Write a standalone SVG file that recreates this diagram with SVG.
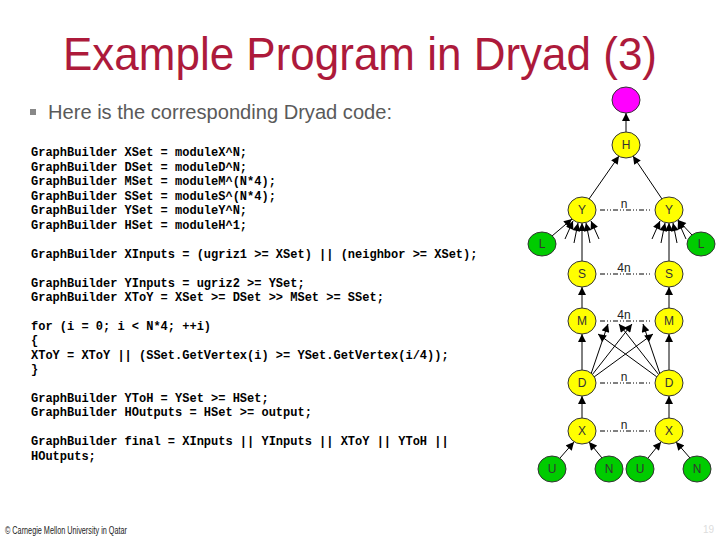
<svg xmlns="http://www.w3.org/2000/svg" width="720" height="540" viewBox="0 0 720 540">
<defs>
<marker id="ah" viewBox="0 0 10 10" refX="10" refY="5" markerWidth="9" markerHeight="8" markerUnits="userSpaceOnUse" orient="auto">
<path d="M0,0 L10,5 L0,10 z" fill="#000"/>
</marker>
<style>
.title{font-family:"Liberation Sans",Arial,sans-serif;font-size:47px;fill:#AD1A3B}
.bullet{font-family:"Liberation Sans",Arial,sans-serif;font-size:20px;fill:#5a5a5a}
.code{font-family:"Liberation Mono","Courier New",monospace;font-size:12px;font-weight:bold;fill:#000;white-space:pre}
.foot{font-family:"Liberation Sans",Arial,sans-serif;font-size:10px;fill:#222}
.pg{font-family:"Liberation Sans",Arial,sans-serif;font-size:10px;fill:#ddd}
.y{fill:#FFFF00;stroke:#333;stroke-width:1}
.g{fill:#00CC00;stroke:#333;stroke-width:1}
.m{fill:#FF00FF;stroke:#333;stroke-width:1}
.nl{font-family:"Liberation Sans",Arial,sans-serif;font-size:12px;fill:#333;text-anchor:middle}
.e{stroke:#000;stroke-width:1;fill:none;marker-end:url(#ah)}
.d{stroke:#000;stroke-width:1;fill:none;stroke-dasharray:5,2,1,2,1,2}
.dl{font-family:"Liberation Sans",Arial,sans-serif;font-size:12px;fill:#222;text-anchor:middle}
</style>
</defs>
<rect width="720" height="540" fill="#fff"/>
<text class="title" x="63" y="70" textLength="594" lengthAdjust="spacingAndGlyphs">Example Program in Dryad (3)</text>
<rect x="30" y="109" width="6" height="6" fill="#888"/>
<text class="bullet" x="48" y="119" textLength="344" lengthAdjust="spacingAndGlyphs">Here is the corresponding Dryad code:</text>
<g id="code">
<text class="code" x="31" y="156">GraphBuilder XSet = moduleX^N;</text>
<text class="code" x="31" y="171">GraphBuilder DSet = moduleD^N;</text>
<text class="code" x="31" y="185">GraphBuilder MSet = moduleM^(N*4);</text>
<text class="code" x="31" y="200">GraphBuilder SSet = moduleS^(N*4);</text>
<text class="code" x="31" y="214">GraphBuilder YSet = moduleY^N;</text>
<text class="code" x="31" y="229">GraphBuilder HSet = moduleH^1;</text>
<text class="code" x="31" y="258">GraphBuilder XInputs = (ugriz1 &gt;= XSet) || (neighbor &gt;= XSet);</text>
<text class="code" x="31" y="287">GraphBuilder YInputs = ugriz2 &gt;= YSet;</text>
<text class="code" x="31" y="301">GraphBuilder XToY = XSet &gt;= DSet &gt;&gt; MSet &gt;= SSet;</text>
<text class="code" x="31" y="330">for (i = 0; i &lt; N*4; ++i)</text>
<text class="code" x="31" y="344">{</text>
<text class="code" x="31" y="359">XToY = XToY || (SSet.GetVertex(i) &gt;= YSet.GetVertex(i/4));</text>
<text class="code" x="31" y="373">}</text>
<text class="code" x="31" y="402">GraphBuilder YToH = YSet &gt;= HSet;</text>
<text class="code" x="31" y="416">GraphBuilder HOutputs = HSet &gt;= output;</text>
<text class="code" x="31" y="445">GraphBuilder final = XInputs || YInputs || XToY || YToH ||</text>
<text class="code" x="31" y="460">HOutputs;</text>
</g>
<g id="connectors">
<line class="e" x1="626" y1="132" x2="626" y2="113"/>
<line class="e" x1="589" y1="199" x2="619" y2="156"/>
<line class="e" x1="662" y1="199" x2="633" y2="156"/>
<line class="e" x1="552" y1="236" x2="572" y2="219"/>
<line class="e" x1="692" y1="235" x2="678" y2="220"/>
<line class="e" x1="582" y1="261" x2="582" y2="223"/>
<line class="e" x1="565" y1="239" x2="573" y2="221"/>
<line class="e" x1="574" y1="243" x2="578" y2="223"/>
<line class="e" x1="590" y1="243" x2="586" y2="223"/>
<line class="e" x1="599" y1="239" x2="591" y2="221"/>
<line class="e" x1="669" y1="261" x2="669" y2="223"/>
<line class="e" x1="652" y1="239" x2="660" y2="221"/>
<line class="e" x1="661" y1="243" x2="665" y2="223"/>
<line class="e" x1="677" y1="243" x2="673" y2="223"/>
<line class="e" x1="686" y1="239" x2="678" y2="221"/>
<line class="e" x1="582" y1="308" x2="582" y2="287"/>
<line class="e" x1="669" y1="308" x2="669" y2="287"/>
<line class="e" x1="582" y1="370" x2="582" y2="334"/>
<line class="e" x1="669" y1="370" x2="669" y2="334"/>
<line class="e" x1="591" y1="374" x2="608" y2="324"/>
<line class="e" x1="592" y1="375" x2="632" y2="324"/>
<line class="e" x1="594" y1="377" x2="653" y2="334"/>
<line class="e" x1="660" y1="374" x2="643" y2="324"/>
<line class="e" x1="659" y1="375" x2="619" y2="324"/>
<line class="e" x1="657" y1="377" x2="598" y2="334"/>
<line class="e" x1="582" y1="418" x2="582" y2="396"/>
<line class="e" x1="669" y1="418" x2="669" y2="396"/>
<line class="e" x1="560" y1="458" x2="574" y2="442"/>
<line class="e" x1="602" y1="458" x2="589" y2="442"/>
<line class="e" x1="648" y1="458" x2="661" y2="442"/>
<line class="e" x1="690" y1="458" x2="676" y2="442"/>
<line class="d" x1="600" y1="210" x2="652" y2="210"/>
<line class="d" x1="600" y1="274" x2="652" y2="274"/>
<line class="d" x1="600" y1="321" x2="652" y2="321"/>
<line class="d" x1="600" y1="383" x2="652" y2="383"/>
<line class="d" x1="600" y1="431" x2="652" y2="431"/>
<text class="dl" x="624" y="208">n</text>
<text class="dl" x="624" y="272">4n</text>
<text class="dl" x="624" y="319">4n</text>
<text class="dl" x="624" y="381">n</text>
<text class="dl" x="624" y="429">n</text>
</g>
<g id="node-out"><ellipse class="m" cx="626" cy="100" rx="14" ry="13"/></g>
<g id="node-H"><ellipse class="y" cx="626" cy="145" rx="14" ry="13"/><text class="nl" x="626" y="149">H</text></g>
<g id="node-YL"><ellipse class="y" cx="582" cy="210" rx="14" ry="13"/><text class="nl" x="582" y="214">Y</text></g>
<g id="node-YR"><ellipse class="y" cx="669" cy="210" rx="14" ry="13"/><text class="nl" x="669" y="214">Y</text></g>
<g id="node-LL"><ellipse class="g" cx="542" cy="244" rx="14" ry="12"/><text class="nl" x="542" y="248">L</text></g>
<g id="node-LR"><ellipse class="g" cx="701" cy="244" rx="14" ry="12"/><text class="nl" x="701" y="248">L</text></g>
<g id="node-SL"><ellipse class="y" cx="582" cy="274" rx="14" ry="13"/><text class="nl" x="582" y="278">S</text></g>
<g id="node-SR"><ellipse class="y" cx="669" cy="274" rx="14" ry="13"/><text class="nl" x="669" y="278">S</text></g>
<g id="node-ML"><ellipse class="y" cx="582" cy="321" rx="14" ry="13"/><text class="nl" x="582" y="325">M</text></g>
<g id="node-MR"><ellipse class="y" cx="669" cy="321" rx="14" ry="13"/><text class="nl" x="669" y="325">M</text></g>
<g id="node-DL"><ellipse class="y" cx="582" cy="383" rx="14" ry="13"/><text class="nl" x="582" y="387">D</text></g>
<g id="node-DR"><ellipse class="y" cx="669" cy="383" rx="14" ry="13"/><text class="nl" x="669" y="387">D</text></g>
<g id="node-XL"><ellipse class="y" cx="582" cy="431" rx="14" ry="13"/><text class="nl" x="582" y="435">X</text></g>
<g id="node-XR"><ellipse class="y" cx="669" cy="431" rx="14" ry="13"/><text class="nl" x="669" y="435">X</text></g>
<g id="node-UL"><ellipse class="g" cx="552" cy="469" rx="14" ry="13"/><text class="nl" x="552" y="473">U</text></g>
<g id="node-NL"><ellipse class="g" cx="609" cy="469" rx="14" ry="13"/><text class="nl" x="609" y="473">N</text></g>
<g id="node-UR"><ellipse class="g" cx="640" cy="469" rx="14" ry="13"/><text class="nl" x="640" y="473">U</text></g>
<g id="node-NR"><ellipse class="g" cx="697" cy="469" rx="14" ry="13"/><text class="nl" x="697" y="473">N</text></g>
<text class="foot" x="5" y="534" textLength="122" lengthAdjust="spacingAndGlyphs">© Carnegie Mellon University in Qatar</text>
<text class="pg" x="703" y="533">19</text>
</svg>
